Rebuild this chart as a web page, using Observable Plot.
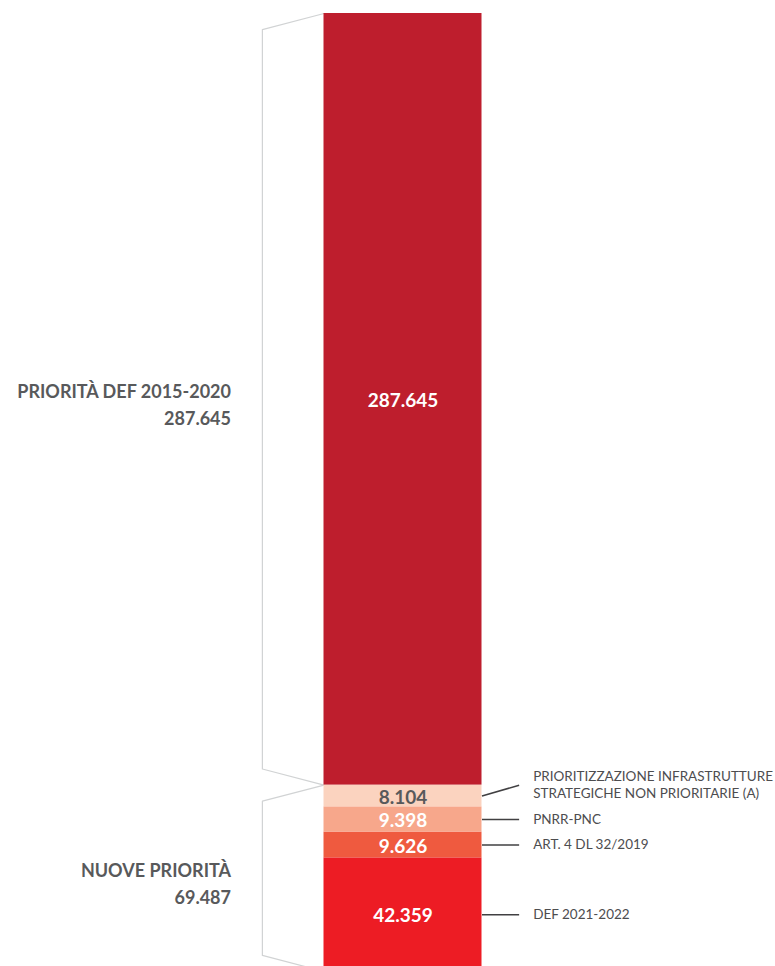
<!DOCTYPE html>
<html>
<head>
<meta charset="utf-8">
<script src="https://cdn.jsdelivr.net/npm/d3@7"></script>
<script src="https://cdn.jsdelivr.net/npm/@observablehq/plot@0.6"></script>
<style>
  html, body { margin: 0; padding: 0; background: #fff; overflow: hidden; }
  #chart svg { display: block; }
</style>
</head>
<body>
<div id="chart"></div>
<script>
// Segments, bottom to top
const categories = [
  "DEF 2021-2022",
  "ART. 4 DL 32/2019",
  "PNRR-PNC",
  "PRIORITIZZAZIONE INFRASTRUTTURE\nSTRATEGICHE NON PRIORITARIE (A)",
  "PRIORITÀ DEF 2015-2020"
];
const values = [42359, 9626, 9398, 8104, 287645];
const groups = ["NUOVE PRIORITÀ", "NUOVE PRIORITÀ", "NUOVE PRIORITÀ", "NUOVE PRIORITÀ", "PRIORITÀ DEF 2015-2020"];
const colors = ["#ED1C24", "#EF5A3F", "#F7A78B", "#FBD3BF", "#BE1E2D"];

const it = d3.formatLocale({decimal: ",", thousands: ".", grouping: [3], currency: ["€", ""]});
const fmt = it.format(",d");

// stack
let acc = 0;
const rows = categories.map((name, i) => {
  const y1 = acc; acc += values[i];
  return {name, group: groups[i], value: values[i], y1, y2: acc, mid: (y1 + acc) / 2, color: colors[i]};
});
const total = acc;

// groups
const groupRows = d3.groups(rows, d => d.group).map(([group, rs]) => {
  const y1 = d3.min(rs, d => d.y1), y2 = d3.max(rs, d => d.y2);
  return {group, y1, y2, mid: (y1 + y2) / 2, sum: d3.sum(rs, d => d.value)};
});

// layout constants (in scale units)
const braceX = -0.39;    // bracket spine, in bar widths
const braceInset = 6000; // vertical drop of bracket tips
const connEnd = 1.235;   // end of connector lines, in bar widths
const smallLift = 4000;  // lift of label for tiny top segment

const braceData = groupRows.flatMap(g => [
  {g: g.group, x: 0, y: g.y2},
  {g: g.group, x: braceX, y: g.y2 - braceInset},
  {g: g.group, x: braceX, y: g.y1 + braceInset},
  {g: g.group, x: 0, y: g.y1}
]);

const newRows = rows.filter(d => d.group === "NUOVE PRIORITÀ");
const topNew = newRows[newRows.length - 1];
const connData = newRows.map(d => ({
  name: d.name, y1: d.mid, y2: d === topNew ? d.mid + smallLift : d.mid
}));

const textColor = c => d3.lab(c).l > 80 ? "#58595B" : "#FFFFFF";
const font = "Lato, 'Open Sans', sans-serif";

const chart = Plot.plot({
  width: 775,
  height: 966,
  margin: 0,
  style: {fontFamily: font, background: "#fff"},
  x: {domain: [0, 1], range: [323.5, 481.5], axis: null},
  y: {domain: [0, total], range: [971, 13], axis: null},
  color: {domain: categories, range: colors},
  marks: [
    Plot.line(braceData, {x: "x", y: "y", z: "g", stroke: "#D1D3D4", strokeWidth: 1.2}),
    Plot.rect(rows, {x1: () => 0, x2: () => 1, y1: "y1", y2: "y2", fill: "name"}),
    Plot.text(rows, {
      x: () => 0.5, y: "mid", text: d => fmt(d.value), dy: 1.5,
      fill: d => textColor(d.color),
      fontSize: 19, fontWeight: 700, textAnchor: "middle", lineAnchor: "middle"
    }),
    Plot.link(connData, {x1: () => 1, x2: () => connEnd, y1: "y1", y2: "y2", stroke: "#414042", strokeWidth: 1.6}),
    Plot.text(connData, {
      x: () => connEnd, y: "y2", text: "name", dx: 14, dy: -1,
      fill: "#4D4D4F", fontSize: 13.5, textAnchor: "start", lineAnchor: "middle", lineHeight: 1.24
    }),
    Plot.text(groupRows, {
      x: () => 0, y: "mid", text: d => d.group + "\n" + fmt(d.sum), dx: -93, dy: 4,
      fill: "#58595B", fontSize: 18, fontWeight: 700, textAnchor: "end", lineAnchor: "middle", lineHeight: 1.5
    })
  ]
});
document.getElementById("chart").appendChild(chart);
</script>
</body>
</html>
